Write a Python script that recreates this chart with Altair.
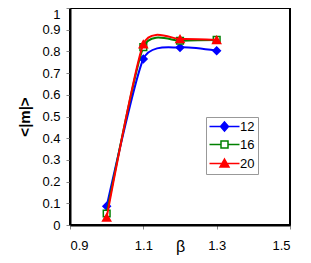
import altair as alt
import pandas as pd

beta = [1.0, 1.1, 1.2, 1.3]
m12 = [0.086, 0.765, 0.818, 0.803]
m16 = [0.053, 0.820, 0.849, 0.853]
m20 = [0.035, 0.833, 0.857, 0.853]
series = ["12", "16", "20"]
colors = ["#0000FF", "#008000", "#FF0000"]
fills = ["#0000FF", "#FFFFFF", "#FF0000"]
shapes = ["diamond", "square", "triangle-up"]
x_ticks = [0.9, 1.1, 1.3, 1.5]
y_ticks = [0, 0.1, 0.2, 0.3, 0.4, 0.5, 0.6, 0.7, 0.8, 0.9, 1.0]

rows = []
for name, vals in zip(series, [m12, m16, m20]):
    for b, v in zip(beta, vals):
        rows.append({"beta": b, "m": v, "n": name})
df = pd.DataFrame(rows)

FONT = "Liberation Sans"

x = alt.X("beta:Q",
          scale=alt.Scale(domain=[0.9, 1.5], nice=False, zero=False),
          axis=alt.Axis(values=x_ticks, format=".1f", title="β",
                        labelPadding=10, titleFontSize=16, titleFontWeight="normal",
                        titleY=26, titleBaseline="alphabetic"))
y = alt.Y("m:Q",
          scale=alt.Scale(domain=[0, 1], nice=False),
          axis=alt.Axis(values=y_ticks, format=".1~f", title="<|m|>",
                        labelPadding=6, titleFontSize=15, titleFontWeight="bold",
                        titlePadding=9,
                        labelBaseline=alt.condition("datum.value == 1",
                                                    alt.value("top"), alt.value("middle"))))

layers = []
for name, shp, col, fl in zip(series, shapes, colors, fills):
    sub = alt.Chart(df).transform_filter(alt.datum.n == name)
    layers.append(sub.mark_line(interpolate="cardinal", tension=0.4,
                                strokeWidth=2, color=col).encode(x=x, y=y))
    sz = {"diamond": 55, "square": 45, "triangle-up": 65}[shp]
    layers.append(sub.mark_point(shape=shp, size=sz, fill=fl, stroke=col,
                                 fillOpacity=1, opacity=1, strokeWidth=1.5
                                 ).encode(x=x, y=y))

leg_paths = [
    "M-3,0H3M0,-0.9L0.8,0L0,0.9L-0.8,0Z",
    "M-3,0H-0.7M0.7,0H3M-0.7,-0.7H0.7V0.7H-0.7Z",
    "M-3,0H3M0,-0.9L0.9,0.7L-0.9,0.7Z",
]

legend_layer = alt.Chart(df).mark_point(opacity=0).encode(
    x=x, y=y,
    color=alt.Color("n:N", scale=alt.Scale(domain=series, range=colors),
                    legend=alt.Legend(title=None)),
    shape=alt.Shape("n:N", scale=alt.Scale(domain=series, range=leg_paths),
                    legend=alt.Legend(title=None)),
    fill=alt.Fill("n:N", scale=alt.Scale(domain=series, range=fills),
                  legend=alt.Legend(title=None)),
)
layers.append(legend_layer)

chart = alt.layer(*layers).properties(
    width=220, height=217,
    padding={"left": 62, "top": 0, "right": 13, "bottom": 30},
    autosize=alt.AutoSizeParams(type="none"),
).configure_view(
    stroke="black", strokeWidth=2
).configure_axis(
    grid=False, domainColor="black", domainWidth=2,
    tickColor="#888888", tickSize=4, tickWidth=1,
    labelFont=FONT, labelFontSize=13, labelColor="black",
    titleFont=FONT, titleColor="black",
).configure_legend(
    orient="none", legendX=136, legendY=109,
    strokeColor="#999999", fillColor="white", padding=3,
    symbolSize=100, symbolStrokeWidth=1.5, symbolOpacity=1, symbolOffset=9,
    labelFont=FONT, labelFontSize=13, labelColor="black", labelOffset=9,
    rowPadding=4, cornerRadius=0,
)

chart.save("out.html", embed_options={"renderer": "svg", "actions": False})
